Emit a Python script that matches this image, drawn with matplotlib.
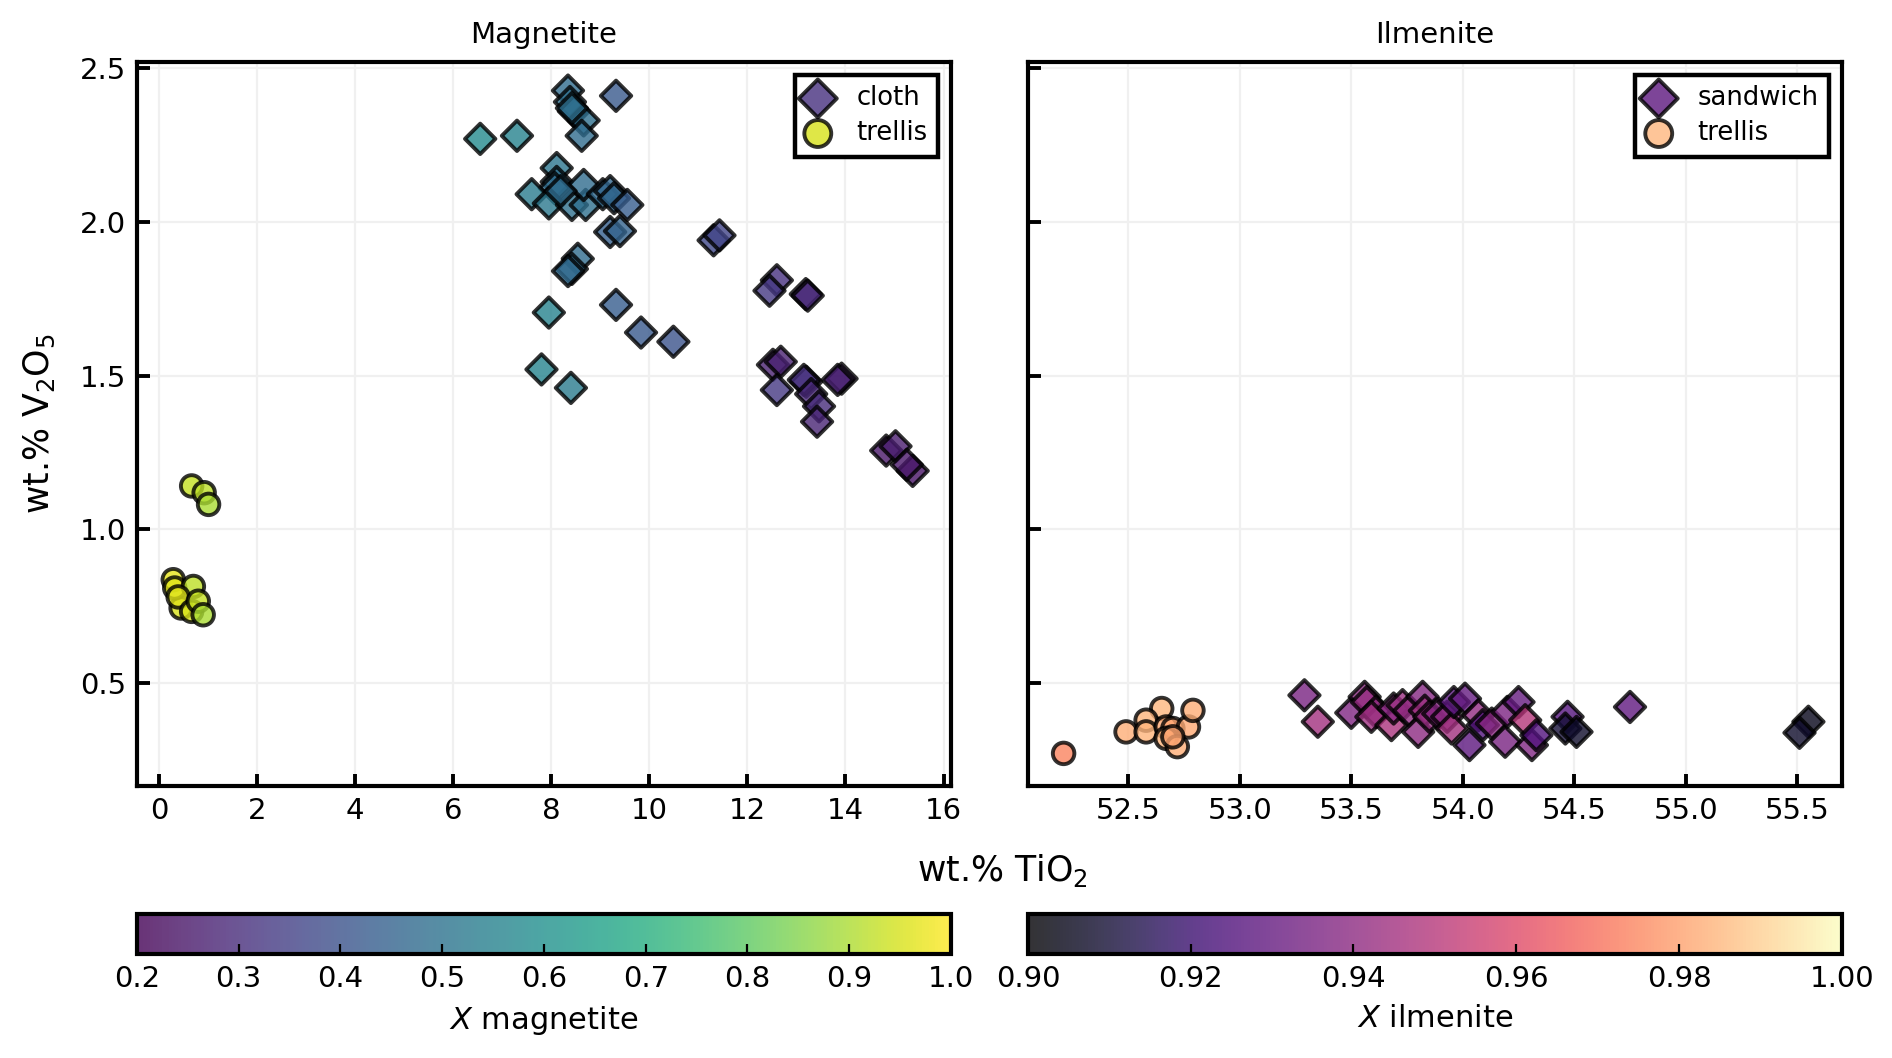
import matplotlib
matplotlib.use('Agg')
import matplotlib.pyplot as plt
from matplotlib.colors import Normalize
from matplotlib.cm import ScalarMappable

# magnetite, cloth texture: TiO2, V2O5, X magnetite
mag_cloth_ti = [13.2, 8.34, 8.38, 8.46, 8.66, 8.62, 8.42, 9.32, 6.55, 7.30,
                8.11, 8.11, 8.07, 7.60, 7.95, 8.42, 8.70, 8.66, 9.05, 9.20,
                9.28, 9.55, 8.19, 9.20, 9.40, 8.54, 8.42, 8.34, 11.31, 11.43,
                12.60, 12.45, 13.19, 13.23, 9.32, 7.95, 9.83, 10.49, 7.80, 8.40,
                12.52, 12.68, 12.60, 13.15, 13.30, 13.46, 13.42, 13.92, 13.84, 14.83,
                15.02, 15.37, 15.25]
mag_cloth_v = [1.48, 2.427, 2.39, 2.36, 2.33, 2.28, 2.37, 2.41, 2.27, 2.28,
               2.175, 2.13, 2.11, 2.09, 2.06, 2.055, 2.055, 2.12, 2.09, 2.10,
               2.077, 2.055, 2.10, 1.967, 1.97, 1.88, 1.847, 1.84, 1.94, 1.956,
               1.81, 1.776, 1.765, 1.76, 1.73, 1.705, 1.64, 1.61, 1.52, 1.46,
               1.535, 1.545, 1.453, 1.486, 1.44, 1.40, 1.35, 1.49, 1.486, 1.256,
               1.27, 1.19, 1.21]
mag_cloth_x = [0.31, 0.48, 0.49, 0.48, 0.49, 0.48, 0.49, 0.42, 0.58, 0.55,
               0.51, 0.49, 0.48, 0.53, 0.52, 0.49, 0.49, 0.48, 0.47, 0.46,
               0.46, 0.43, 0.48, 0.44, 0.45, 0.48, 0.48, 0.47, 0.37, 0.36,
               0.31, 0.33, 0.30, 0.29, 0.43, 0.55, 0.42, 0.40, 0.56, 0.53,
               0.27, 0.27, 0.33, 0.31, 0.29, 0.30, 0.28, 0.26, 0.27, 0.25,
               0.26, 0.24, 0.25]

# magnetite, trellis texture
mag_trel_ti = [0.45, 0.665, 0.92, 1.01, 0.29, 0.32, 0.70, 0.39, 0.665, 0.80, 0.90]
mag_trel_v = [0.744, 1.141, 1.119, 1.081, 0.836, 0.809, 0.814, 0.78, 0.733, 0.766, 0.722]
mag_trel_x = [0.95, 0.93, 0.92, 0.90, 0.97, 0.96, 0.92, 0.96, 0.95, 0.93, 0.90]

# ilmenite, sandwich texture
ilm_sand_ti = [54.03, 53.29, 53.35, 53.50, 53.56, 53.57, 53.61, 53.59, 53.68, 53.69,
               53.73, 53.76, 53.80, 53.82, 53.83, 53.85, 53.89, 53.93, 53.95, 53.96,
               54.01, 54.07, 54.09, 54.13, 54.19, 54.20, 54.25, 54.28, 54.31, 54.33,
               54.47, 54.46, 54.51, 54.75, 55.55, 55.51]
ilm_sand_v = [0.298, 0.46, 0.374, 0.403, 0.455, 0.438, 0.406, 0.39, 0.363, 0.417,
              0.428, 0.41, 0.341, 0.455, 0.41, 0.39, 0.40, 0.39, 0.352, 0.438,
              0.449, 0.395, 0.363, 0.368, 0.309, 0.406, 0.438, 0.379, 0.298, 0.33,
              0.39, 0.352, 0.341, 0.422, 0.374, 0.338]
ilm_sand_x = [0.928, 0.935, 0.945, 0.937, 0.940, 0.942, 0.941, 0.944, 0.947, 0.939,
              0.943, 0.941, 0.940, 0.938, 0.944, 0.942, 0.938, 0.940, 0.945, 0.927,
              0.930, 0.941, 0.925, 0.939, 0.935, 0.936, 0.930, 0.950, 0.937, 0.925,
              0.926, 0.910, 0.908, 0.929, 0.905, 0.908]

# ilmenite, trellis texture
ilm_trel_ti = [52.65, 52.21, 52.49, 52.58, 52.58, 52.67, 52.70, 52.67, 52.72, 52.77, 52.79, 52.70]
ilm_trel_v = [0.417, 0.271, 0.341, 0.379, 0.341, 0.357, 0.352, 0.32, 0.293, 0.357, 0.411, 0.325]
ilm_trel_x = [0.985, 0.974, 0.983, 0.984, 0.984, 0.982, 0.981, 0.984, 0.983, 0.982, 0.983, 0.981]

plt.rcParams['font.family'] = 'DejaVu Sans'
plt.rcParams['font.size'] = 10
plt.rcParams['axes.linewidth'] = 1.5

fig = plt.figure(figsize=(9.46, 5.29), dpi=200)
ax1 = fig.add_axes([0.0724, 0.2571, 0.4302, 0.6843])
ax2 = fig.add_axes([0.5433, 0.2571, 0.4302, 0.6843], sharey=ax1)

norm1 = Normalize(0.2, 1.0)
norm2 = Normalize(0.9, 1.0)
kw = dict(s=60, edgecolors='k', linewidths=1.4, alpha=0.8, zorder=3)

ax1.scatter(mag_cloth_ti, mag_cloth_v, c=mag_cloth_x, cmap='viridis', norm=norm1,
            marker='D', label='cloth', **kw)
ax1.scatter(mag_trel_ti, mag_trel_v, c=mag_trel_x, cmap='viridis', norm=norm1,
            marker='o', label='trellis', **kw)
ax2.scatter(ilm_sand_ti, ilm_sand_v, c=ilm_sand_x, cmap='magma', norm=norm2,
            marker='D', label='sandwich', **kw)
ax2.scatter(ilm_trel_ti, ilm_trel_v, c=ilm_trel_x, cmap='magma', norm=norm2,
            marker='o', label='trellis', **kw)

ax1.set_xlim(-0.45, 16.15)
ax2.set_xlim(52.05, 55.7)
ax1.set_ylim(0.165, 2.52)
ax1.set_xticks(range(0, 17, 2))
ax2.set_xticks([52.5, 53.0, 53.5, 54.0, 54.5, 55.0, 55.5])
ax1.set_yticks([0.5, 1.0, 1.5, 2.0, 2.5])

for ax, title in [(ax1, 'Magnetite'), (ax2, 'Ilmenite')]:
    ax.set_title(title, fontsize=10.5, pad=7)
    ax.grid(True, color='#f0f0f0', linewidth=0.8, zorder=0)
    ax.set_axisbelow(True)
    ax.tick_params(direction='in', length=4.5, width=1.4, labelsize=10.5, pad=4)
    leg = ax.legend(loc='upper right', fancybox=False, framealpha=1, markerscale=1.25,
                    edgecolor='k', fontsize=9.3, borderpad=0.4, handlelength=1.0,
                    handletextpad=1.0, labelspacing=0.35, borderaxespad=0.5)
    leg.get_frame().set_linewidth(1.6)
plt.setp(ax2.get_yticklabels(), visible=False)

ax1.set_ylabel('wt.% V$_2$O$_5$', fontsize=12.5, labelpad=8)
fig.text(0.53, 0.177, 'wt.% TiO$_2$', ha='center', va='center', fontsize=12.5)

cax1 = fig.add_axes([0.0724, 0.0983, 0.4302, 0.0378])
cax2 = fig.add_axes([0.5433, 0.0983, 0.4302, 0.0378])
for cax, cm, nrm, lab, ticks in [
        (cax1, 'viridis', norm1, '$X$ magnetite', [0.2, 0.3, 0.4, 0.5, 0.6, 0.7, 0.8, 0.9, 1.0]),
        (cax2, 'magma', norm2, '$X$ ilmenite', [0.90, 0.92, 0.94, 0.96, 0.98, 1.00])]:
    sm = ScalarMappable(norm=nrm, cmap=cm)
    cb = fig.colorbar(sm, cax=cax, orientation='horizontal', alpha=0.8, ticks=ticks)
    cb.outline.set_linewidth(1.5)
    cb.ax.tick_params(direction='in', length=3.5, width=0.8, labelsize=10.5, pad=4)
    cb.set_label(lab, fontsize=11)
cax2.set_xticklabels(['0.90', '0.92', '0.94', '0.96', '0.98', '1.00'])

fig.savefig('out.png', dpi=200)
